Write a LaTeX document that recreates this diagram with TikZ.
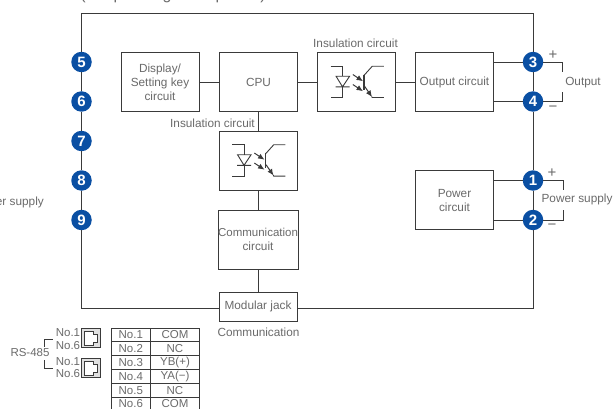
\documentclass[tikz,border=0pt]{standalone}
\usepackage{fontspec}
\setmainfont{Liberation Sans}
\usetikzlibrary{arrows.meta}
\definecolor{txt}{HTML}{6A6A6A}
\definecolor{lin}{HTML}{3A3A3A}
\definecolor{pin}{HTML}{0A4FA3}
\tikzset{
 x=1pt,y=-1pt,
 wire/.style={draw=lin,line width=.9pt},
 blockbox/.style={draw=lin,line width=.9pt,fill=white,minimum width=78pt,minimum height=59pt,inner sep=0pt,align=center,text=txt,font=\fontsize{11.8}{14}\selectfont},
 lab/.style={text=txt,font=\fontsize{11.8}{14}\selectfont,inner sep=0pt,align=center},
 signlab/.style={lab,font=\fontsize{15}{15}\selectfont},
 headfrag/.style={lab,anchor=base,font=\fontsize{16}{16}\selectfont},
 tinylab/.style={text=txt,font=\fontsize{11.5}{13}\selectfont,inner sep=0pt},
 pinnode/.style={circle,fill=pin,draw=none,minimum size=20.5pt,inner sep=0pt,text=white,font=\fontsize{15}{15}\selectfont\bfseries},
 cellbox/.style={draw=lin,line width=.9pt,minimum height=13.8pt,inner sep=0pt,text=txt,font=\fontsize{11.5}{13}\selectfont},
 jackbox/.style={draw=lin,fill=black!12,line width=.9pt,minimum width=19pt,minimum height=19.5pt,inner sep=0pt},
 optoarrow/.style={line width=1pt,lin,-{Latex[length=6.5pt,width=5.5pt]}},
 optosym/.pic={
  \draw[line width=.9pt,lin] (13.5,14.2)--(25.5,14.2)--(25.5,24) (25.5,34.8)--(25.5,45.5)--(13.5,45.5);
  \draw[line width=.9pt,lin] (19,24.2)--(32.5,24.2)--(25.5,34.8)--cycle (18.5,34.8)--(32.5,34.8);
  \draw[optoarrow] (35.8,22.5)--(46,29.2);
  \draw[optoarrow] (35.8,32.5)--(46,39.2);
  \draw[line width=1.3pt,lin] (46.8,22.5)--(46.8,37.5);
  \draw[line width=.9pt,lin] (46.8,23.5)--(55.2,14.2)--(66.8,14.2);
  \draw[optoarrow] (47.5,34.2)--(55,45);
  \draw[line width=.9pt,lin] (54.6,44.5)--(55.2,45.5)--(66.8,45.5);
 },
 rjsym/.pic={
  \draw[line width=.9pt,lin,fill=white] (-7,-7)--(2,-7)--(2,-4)--(6,-4)--(6,4)--(2,4)--(2,7)--(-7,7)--cycle;
 },
}
\begin{document}
\begin{tikzpicture}
\useasboundingbox (0,0) rectangle (613,409);
\clip (0,0) rectangle (613,409);
% cropped heading fragments
\node[headfrag] (h1) at (83,0) {(};
\node[headfrag] (h2) at (118,0) {p};
\node[headfrag] (h3) at (167,0) {g};
\node[headfrag] (h4) at (220,0) {p};
\node[headfrag] (h5) at (263,0) {)};
% blocks
\node[blockbox] (disp) at (160,82) {Display/\\Setting key\\circuit};
\node[blockbox] (cpu) at (258.5,82) {CPU};
\node[blockbox] (ins1) at (356.5,82) {};
\node[blockbox] (out) at (454.5,82) {Output circuit};
\node[blockbox] (ins2) at (258,160.5) {};
\node[blockbox] (com) at (258,239.5) {\fontsize{11.5}{14}\selectfont Communication\\circuit};
\node[blockbox] (pow) at (454.5,200) {Power\\circuit};
\node[blockbox,minimum height=29pt] (jack) at (258,306.5) {Modular jack};
\pic at (ins1.north west) {optosym};
\pic at (ins2.north west) {optosym};
% terminals
\node[pinnode] (t5) at (81.5,62) {5};
\node[pinnode] (t6) at (81.5,101.5) {6};
\node[pinnode] (t7) at (81.5,141) {7};
\node[pinnode] (t8) at (81.5,180.5) {8};
\node[pinnode] (t9) at (81.5,220) {9};
\node[pinnode] (t3) at (533,62) {3};
\node[pinnode] (t4) at (533,101.5) {4};
\node[pinnode] (t1) at (533,180.5) {1};
\node[pinnode] (t2) at (533,220) {2};
% frame
\coordinate (tl) at (81.5,13.5);
\coordinate (tr) at (533,13.5);
\coordinate (bl) at (81.5,308);
\coordinate (br) at (533,308);
\draw[wire] (t5)--(tl)--(tr)--(t3);
\draw[wire] (t5)--(t6); \draw[wire] (t6)--(t7); \draw[wire] (t7)--(t8); \draw[wire] (t8)--(t9);
\draw[wire] (t3)--(t4); \draw[wire] (t4)--(t1); \draw[wire] (t1)--(t2);
\draw[wire] (t9)--(bl)--(bl-|jack.west);
\draw[wire] (t2)--(br)--(br-|jack.east);
% block links
\draw[wire] (disp)--(cpu);
\draw[wire] (cpu)--(ins1);
\draw[wire] (ins1)--(out);
\draw[wire] (cpu.south-|ins2.north)--(ins2.north);
\draw[wire] (ins2)--(com);
\draw[wire] (com)--(jack);
\draw[wire] (out.east|-t3)--(t3);
\draw[wire] (out.east|-t4)--(t4);
\draw[wire] (pow.east|-t1)--(t1);
\draw[wire] (pow.east|-t2)--(t2);
% outside brackets
\coordinate (oa) at (562.5,62); \coordinate (oaa) at (562.5,72);
\coordinate (ob) at (562.5,101.5); \coordinate (obb) at (562.5,92);
\draw[wire] (t3)--(oa)--(oaa);
\draw[wire] (t4)--(ob)--(obb);
\coordinate (pa) at (563,180.5); \coordinate (paa) at (563,190);
\coordinate (pb) at (563,220); \coordinate (pbb) at (563,210);
\draw[wire] (t1)--(pa)--(paa);
\draw[wire] (t2)--(pb)--(pbb);
% labels
\node[lab] (l1) at (355.5,43) {Insulation circuit};
\node[lab,anchor=east] (l2) at (255,123) {Insulation circuit};
\node[lab] (l3) at (583,82.5) {Output};
\node[lab] (l4) at (577,199.5) {Power supply};
\node[lab,anchor=east] (l5) at (44,202) {er supply};
\node[lab] (l6) at (258.5,332.5) {Communication};
\node[signlab] (pl1) at (553,55.5) {+};
\node[signlab] (mi1) at (553,109) {−};
\node[signlab] (pl2) at (552,173) {+};
\node[signlab] (mi2) at (552,227) {−};
% RS-485
\node[tinylab] (rs) at (30,353) {RS-485};
\node[tinylab] (n1) at (68,333) {No.1};
\node[tinylab] (n2) at (68,345.5) {No.6};
\node[tinylab] (n3) at (68,362) {No.1};
\node[tinylab] (n4) at (68,374) {No.6};
\node[jackbox] (rj1) at (91,338) {};
\node[jackbox] (rj2) at (91,368) {};
\pic at (rj1) {rjsym};
\pic at (rj2) {rjsym};
\coordinate (ra) at (44,339); \coordinate (rb) at (53,339); \coordinate (rc) at (44,347);
\coordinate (rd) at (44,368); \coordinate (re) at (53,368); \coordinate (rf) at (44,360);
\draw[wire] (rc)--(ra)--(rb);
\draw[wire] (rf)--(rd)--(re);
% table
\foreach \a/\b/\yy/\k in {No.1/COM/334.9/1,No.2/NC/348.7/2,No.3/YB(+)/362.5/3,No.4/YA(−)/376.3/4,No.5/NC/390.1/5,No.6/COM/403.9/6}{
  \node[cellbox,minimum width=39.5pt] (ca\k) at (130.8,\yy) {\a};
  \node[cellbox,minimum width=49pt] (cb\k) at (175,\yy) {\b};
}
\end{tikzpicture}
\end{document}
